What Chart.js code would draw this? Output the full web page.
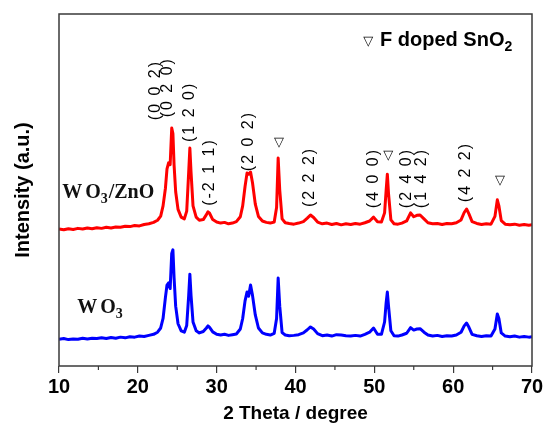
<!DOCTYPE html>
<html>
<head>
<meta charset="utf-8">
<script src="https://cdn.jsdelivr.net/npm/chart.js@4"></script>
<style>
  html, body { margin: 0; padding: 0; background: #fff; }
</style>
</head>
<body>
<canvas id="xrd" width="546" height="429"></canvas>
<script>
// 2 theta positions (degree), shared by both patterns
const twoTheta = [
  10, 10.6, 11.2, 11.8, 12.4, 13, 13.6, 14.2, 14.8, 15.4,
  16, 16.6, 17.2, 17.8, 18.4, 19, 19.6, 20.2, 20.8, 21.4,
  22, 22.5, 22.9, 23.2, 23.5, 23.7, 23.9, 24.1, 24.3, 24.45,
  24.6, 24.8, 25.1, 25.5, 25.9, 26.2, 26.45, 26.6, 26.75, 27.0,
  27.4, 27.8, 28.3, 28.7, 28.9, 29.1, 29.5, 30, 30.5, 31,
  31.5, 32, 32.5, 33, 33.3, 33.6, 33.85, 34.05, 34.3, 34.55,
  34.9, 35.3, 35.8, 36.3, 36.8, 37.3, 37.6, 37.8, 38.0, 38.3,
  38.7, 39.2, 39.8, 40.4, 41, 41.5, 41.9, 42.3, 42.8, 43.4,
  44, 44.6, 45.2, 45.8, 46.4, 47, 47.6, 48.2, 48.8, 49.4,
  49.9, 50.4, 50.9, 51.3, 51.5, 51.65, 51.8, 52.1, 52.5, 53,
  53.5, 54.1, 54.6, 55.0, 55.4, 55.8, 56.3, 56.8, 57.4, 58,
  58.6, 59.2, 59.8, 60.4, 61, 61.4, 61.7, 62.0, 62.4, 63,
  63.6, 64.2, 64.8, 65.3, 65.6, 65.8, 66.1, 66.6, 67.2, 67.8,
  68.4, 69, 69.6, 70
];

// WO3/ZnO pattern (offset upward)
const wo3Zno = [
  38.9, 38.7, 39.0, 38.8, 39.1, 38.9, 39.2, 39.0, 39.3, 39.1,
  39.4, 39.2, 39.5, 39.4, 39.7, 39.6, 39.9, 39.8, 40.2, 40.4,
  40.8, 41.4, 42.6, 45.5, 50.5, 56.0, 57.7, 57.2, 67.6, 66.0,
  57.0, 49.5, 44.5, 42.3, 41.8, 44.0, 55.0, 61.9, 55.0, 45.5,
  42.3, 41.4, 41.6, 43.0, 43.8, 43.4, 41.6, 40.9, 40.6, 40.8,
  40.4, 40.6, 41.0, 42.4, 45.5, 51.0, 54.8, 54.5, 55.1, 52.0,
  46.0, 42.5, 41.2, 40.8, 40.6, 40.9, 45.0, 59.1, 50.0, 41.8,
  40.7, 40.5, 40.3, 40.6, 41.0, 42.0, 42.9, 42.2, 40.9, 40.4,
  40.6, 40.2, 40.5, 40.1, 40.4, 40.2, 40.5, 40.3, 40.7, 41.2,
  42.3, 41.0, 40.9, 43.5, 50.0, 54.5, 49.0, 41.5, 40.4, 40.3,
  40.6, 41.2, 43.5, 42.4, 42.8, 42.9, 41.8, 40.7, 40.4, 40.5,
  40.2, 40.5, 40.4, 40.7, 41.5, 43.6, 44.6, 43.2, 41.0, 40.5,
  40.2, 40.4, 40.3, 42.5, 47.2, 45.5, 41.3, 40.3, 40.1, 40.3,
  40.0, 40.2, 40.0, 40.1
];

// WO3 pattern
const wo3 = [
  7.6, 7.8, 7.5, 7.7, 7.6, 7.9, 7.7, 7.9, 7.8, 8.0,
  7.8, 8.1, 7.9, 8.2, 8.0, 8.3, 8.2, 8.5, 8.4, 8.7,
  9.0, 9.6, 10.8, 13.5, 19.5, 23.0, 23.6, 22.0, 32.0, 33.0,
  25.0, 17.0, 12.0, 10.0, 9.6, 11.5, 20.0, 26.1, 20.0, 12.5,
  10.0, 9.4, 9.8, 10.8, 11.4, 11.0, 9.7, 9.0, 8.8, 9.0,
  8.7, 8.9, 9.1, 10.5, 13.5, 18.5, 21.0, 19.8, 23.0, 20.0,
  14.5, 10.8, 9.4, 9.0, 8.8, 9.3, 13.5, 25.0, 17.0, 9.5,
  8.8, 8.6, 8.7, 8.9, 9.4, 10.3, 11.1, 10.5, 9.2, 8.6,
  8.8, 8.5, 8.9, 8.8, 8.6, 8.5, 8.7, 8.5, 9.0, 9.6,
  10.8, 9.0, 9.0, 12.5, 18.0, 21.0, 17.0, 10.0, 8.6, 8.5,
  8.8, 9.3, 10.9, 10.2, 10.5, 10.6, 9.6, 8.8, 8.5, 8.7,
  8.4, 8.6, 8.5, 8.8, 9.6, 11.4, 12.2, 11.0, 9.0, 8.6,
  8.4, 8.6, 8.5, 10.5, 14.8, 13.5, 9.4, 8.5, 8.3, 8.5,
  8.2, 8.4, 8.2, 8.3
];

// (hkl) labels of the WO3 reflections
const hklLabels = ['(0 0 2)', '(0 2 0)', '(1 2 0)', '(-2 1 1)', '(2 0 2)', '(2 2 2)',
                   '(4 0 0)', '(2 4 0)', '(1 4 2)', '(4 2 2)'];
const hklX = [22.2, 23.75, 26.6, 29.15, 34.0, 41.85, 49.85, 54.15, 56.05, 61.6];
const hklY = [78.4, 79.2, 72.2, 55.1, 63.9, 53.7, 53.4, 53.4, 53.4, 55.1];

// F doped SnO2 markers
const snoX = [37.9, 51.75, 65.95];
const snoY = [63.4, 59.9, 52.8];

const xTicks = [10, 20, 30, 40, 50, 60, 70];
const minorTicks = [15, 25, 35, 45, 55, 65];

const ARIAL = '"Liberation Sans", Arial, sans-serif';
const TIMES = '"Liberation Serif", "Times New Roman", serif';

function drawParts(ctx, parts, x, y) {
  // parts: [text, font, dy, gap before]
  let cx = x;
  parts.forEach(([txt, font, dy, gap]) => {
    cx += gap || 0;
    ctx.font = font;
    ctx.fillText(txt, cx, y + dy);
    cx += ctx.measureText(txt).width;
  });
}

const decorations = {
  id: 'decorations',
  afterDraw(chart) {
    const ctx = chart.ctx;
    const area = chart.chartArea;
    const xs = chart.scales.x;
    const ys = chart.scales.y;
    ctx.save();

    // frame
    ctx.strokeStyle = '#3a3a3a';
    ctx.lineWidth = 1.5;
    ctx.strokeRect(area.left, area.top, area.right - area.left, area.bottom - area.top);

    // minor ticks
    ctx.lineWidth = 1.2;
    minorTicks.forEach(t => {
      const px = xs.getPixelForValue(t);
      ctx.beginPath();
      ctx.moveTo(px, area.bottom);
      ctx.lineTo(px, area.bottom + 4);
      ctx.stroke();
    });

    // hkl labels, rotated
    ctx.fillStyle = '#000';
    ctx.font = '16px ' + ARIAL;
    ctx.letterSpacing = '2px';
    ctx.textAlign = 'center';
    ctx.textBaseline = 'middle';
    hklLabels.forEach((lab, i) => {
      ctx.save();
      ctx.translate(xs.getPixelForValue(hklX[i]), ys.getPixelForValue(hklY[i]));
      ctx.rotate(-Math.PI / 2);
      ctx.fillText(lab, 0, 0);
      ctx.restore();
    });
    ctx.letterSpacing = '0px';

    // SnO2 markers
    ctx.font = '13px "DejaVu Sans", sans-serif';
    snoX.forEach((x, i) => {
      ctx.fillText('\u25BD', xs.getPixelForValue(x), ys.getPixelForValue(snoY[i]));
    });

    // legend
    ctx.textAlign = 'left';
    ctx.textBaseline = 'alphabetic';
    ctx.font = '13px "DejaVu Sans", sans-serif';
    ctx.fillText('\u25BD', xs.getPixelForValue(48.6), ys.getPixelForValue(91.2));
    drawParts(ctx, [
      ['F doped SnO', 'bold 20px ' + ARIAL, 0],
      ['2', 'bold 14px ' + ARIAL, 5]
    ], xs.getPixelForValue(50.72), ys.getPixelForValue(90.8));

    // sample names
    ctx.fillStyle = '#111';
    drawParts(ctx, [
      ['W', 'bold 20px ' + TIMES, 0],
      ['O', 'bold 20px ' + TIMES, 0, 3],
      ['3', 'bold 14px ' + TIMES, 5],
      ['/ZnO', 'bold 20px ' + TIMES, 0, 1]
    ], xs.getPixelForValue(10.4), ys.getPixelForValue(47.7));
    drawParts(ctx, [
      ['W', 'bold 20px ' + TIMES, 0],
      ['O', 'bold 20px ' + TIMES, 0, 3],
      ['3', 'bold 14px ' + TIMES, 5]
    ], xs.getPixelForValue(12.3), ys.getPixelForValue(15.1));

    ctx.restore();
  }
};

const chart = new Chart(document.getElementById('xrd'), {
  type: 'line',
  data: {
    datasets: [
      {
        label: 'WO3/ZnO',
        data: twoTheta.map((t, i) => ({ x: t, y: wo3Zno[i] })),
        borderColor: '#ff0000',
        borderWidth: 3,
        borderJoinStyle: 'round',
        pointRadius: 0,
        tension: 0
      },
      {
        label: 'WO3',
        data: twoTheta.map((t, i) => ({ x: t, y: wo3[i] })),
        borderColor: '#0000ff',
        borderWidth: 3,
        borderJoinStyle: 'round',
        pointRadius: 0,
        tension: 0
      }
    ]
  },
  options: {
    responsive: false,
    animation: false,
    devicePixelRatio: 1,
    layout: { padding: { top: 14, right: 14, left: 0, bottom: 0 } },
    plugins: {
      legend: { display: false },
      tooltip: { enabled: false }
    },
    scales: {
      x: {
        type: 'linear',
        min: 10,
        max: 70,
        afterBuildTicks: axis => { axis.ticks = xTicks.map(v => ({ value: v })); },
        afterFit: axis => { axis.height = 63; },
        grid: { display: true, drawOnChartArea: false, tickLength: 7, color: '#3a3a3a', lineWidth: 1.2 },
        border: { display: false },
        ticks: {
          color: '#000',
          padding: 2,
          maxRotation: 0,
          font: { family: ARIAL, size: 20, weight: 'bold' }
        },
        title: {
          display: true,
          text: '2 Theta / degree',
          color: '#000',
          padding: { top: 0, bottom: 4 },
          font: { family: ARIAL, size: 19, weight: 'bold' }
        }
      },
      y: {
        min: 0,
        max: 100,
        afterFit: axis => { axis.width = 59; },
        grid: { display: false },
        border: { display: false },
        ticks: { display: false },
        title: {
          display: true,
          text: 'Intensity (a.u.)',
          color: '#000',
          padding: { top: 11, bottom: 0 },
          font: { family: ARIAL, size: 20, weight: 'bold' }
        }
      }
    }
  },
  plugins: [decorations]
});
</script>
</body>
</html>
